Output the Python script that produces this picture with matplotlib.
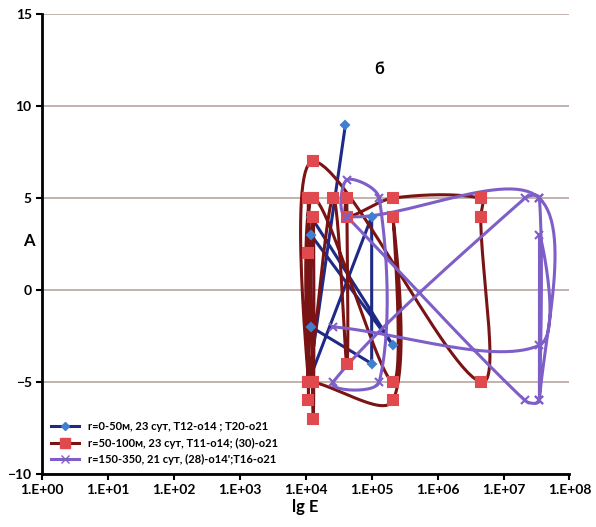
import numpy as np
import matplotlib
matplotlib.use('Agg')
from matplotlib import pyplot as plt

plt.rcParams['font.family'] = ['Lato', 'DejaVu Sans']
plt.rcParams['font.weight'] = 'bold'

# r=0-50m (straight lines)
blue_x = [4.0e4, 1.1e4, 1.0e5, 1.0e5, 1.2e4, 1.2e4, 2.1e5, 1.2e4]
blue_y = [9, -5, 4, -4, -2, 3, -3, 4]

# r=50-100m (smoothed)
red_x = [1.1e4, 1.1e4, 1.1e4, 1.3e4, 1.3e4, 1.1e4, 2.6e4, 4.2e4, 4.2e4, 4.2e4, 2.1e5,
         4.5e6, 4.5e6, 4.5e6, 1.3e4, 1.1e4, 1.3e4, 2.1e5, 2.1e5, 2.1e5, 1.3e4]
red_y = [2, -6, 5, -7, 4, -5, 5, -4, 5, 4, 5, 5, 4, -5, 7, -5, 5, -5, 4, -6, -5]

# r=150-350 (smoothed)
purple_x = [4.2e4, 2.1e7, 3.5e7, 3.5e7, 4.2e4, 4.2e4, 1.3e5, 1.3e5, 2.6e4, 2.1e7,
            3.5e7, 3.5e7, 3.5e7, 3.5e7, 2.6e4]
purple_y = [4, -6, -6, 5, 4, 6, 5, -5, -5, 5, 5, -6, 3, -3, -2]

labels = ['r=0-50м, 23 сут, Т12-о14 ; Т20-о21',
          'r=50-100м, 23 сут, Т11-о14; (30)-о21',
          'r=150-350, 21 сут, (28)-о14\';Т16-о21']


def smooth(xs, ys, n=30):
    # bezier smoothing like excel, control arms scaled by segment length
    # work in screen-like units: one decade ~ 3.6 units of y
    px = np.log10(xs) * 3.6
    py = np.array(ys, dtype=float)
    pts = np.column_stack([px, py])
    pts = np.vstack([pts[0], pts, pts[-1]])
    out = []
    t = np.linspace(0, 1, n)[:, None]
    for i in range(1, len(pts) - 2):
        p0, p1, p2, p3 = pts[i - 1:i + 3]
        d01 = np.hypot(*(p1 - p0))
        d12 = np.hypot(*(p2 - p1))
        d23 = np.hypot(*(p3 - p2))
        a = d12 / (d01 + d12) / 3 if d01 + d12 > 0 else 0
        b = d12 / (d12 + d23) / 3 if d12 + d23 > 0 else 0
        c1 = p1 + (p2 - p0) * a
        c2 = p2 - (p3 - p1) * b
        seg = (1-t)**3*p1 + 3*(1-t)**2*t*c1 + 3*(1-t)*t**2*c2 + t**3*p2
        out.append(seg)
    out = np.vstack(out)
    return 10 ** (out[:, 0] / 3.6), out[:, 1]


fig = plt.figure(figsize=(5.96, 5.27), dpi=100)
ax = fig.add_axes([0.0705, 0.1006, 0.885, 0.8724])

series = [
    (blue_x, blue_y, '#1F2A86', '#3F7FD0', 'D', 4.5, labels[0], False),
    (red_x, red_y, '#7A1313', '#E04A4E', 's', 6.5, labels[1], True),
    (purple_x, purple_y, '#7E5FC8', '#7E5FC8', 'x', 6, labels[2], True),
]
for xs, ys, lc, mc, mk, ms, lab, sm in series:
    if sm:
        sx, sy = smooth(xs, ys)
    else:
        sx, sy = xs, ys
    ax.plot(sx, sy, color=lc, lw=2.2, zorder=3)
    ax.plot(xs, ys, ls='none', marker=mk, ms=ms, color=mc, mec=mc, mew=1.5, zorder=4)
    ax.plot([], [], color=lc, lw=2.2, marker=mk, ms=ms, mfc=mc, mec=mc, label=lab)

ax.set_xscale('log')
ax.set_xlim(1, 1e8)
ax.set_ylim(-10, 15)
ax.set_xticks([10.0 ** k for k in range(9)])
ax.set_xticklabels(['1.E+%02d' % k for k in range(9)])
ax.xaxis.set_minor_locator(matplotlib.ticker.NullLocator())
ax.set_yticks([-10, -5, 0, 5, 10, 15])
ax.tick_params(labelsize=10, width=1.5, length=4)
ax.grid(axis='y', color='#B8A5A0', lw=1.2)
ax.set_axisbelow(True)
for s in ['top', 'right']:
    ax.spines[s].set_visible(False)
for s in ['left', 'bottom']:
    ax.spines[s].set_linewidth(2)

ax.set_xlabel('lg E', fontsize=12, fontweight='bold', labelpad=2)
ax.set_ylabel('A', fontsize=12, fontweight='bold', rotation=0)
ax.yaxis.set_label_coords(-0.025, 0.49)
ax.text(1.3e5, 12, 'б', fontsize=12, fontweight='bold', ha='center', va='center')

leg = ax.legend(loc='lower left', fontsize=8, frameon=True, framealpha=1,
                edgecolor='white', handlelength=2.5, borderaxespad=0.4)
leg.set_zorder(5)

plt.savefig('out.png', dpi=100)
